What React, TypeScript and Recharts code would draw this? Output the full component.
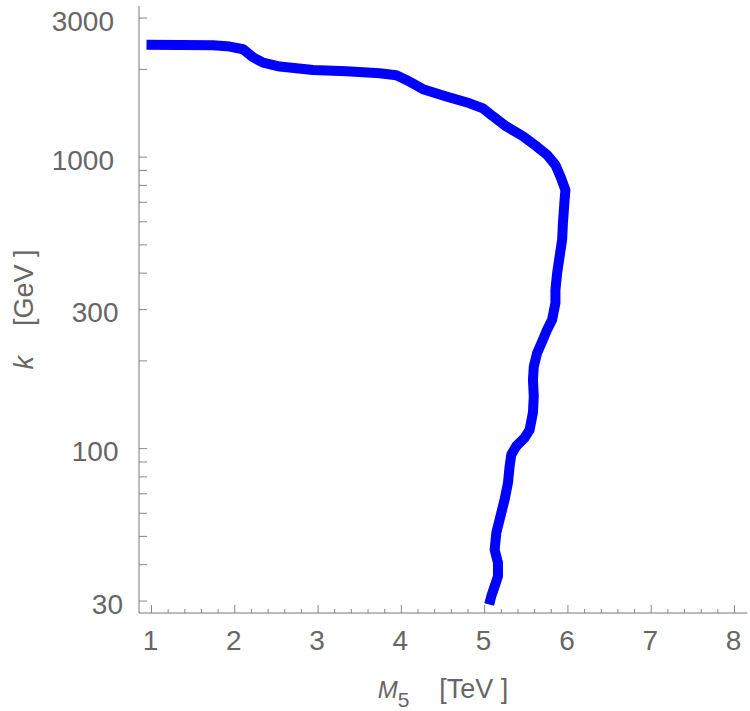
import { LineChart, Line, XAxis, YAxis } from 'recharts';

const m5Values = [
  0.94, 1.74, 1.94, 2.1, 2.22, 2.34, 2.54, 2.94, 3.34, 3.74, 3.94, 4.06, 4.26, 4.54,
  4.82, 4.98, 5.1, 5.26, 5.46, 5.63, 5.75, 5.85, 5.91, 5.97, 5.96, 5.94, 5.93, 5.9,
  5.87, 5.85, 5.85, 5.81, 5.75, 5.69, 5.63, 5.59, 5.58, 5.59, 5.58, 5.54, 5.48, 5.38,
  5.32, 5.3, 5.28, 5.24, 5.18, 5.14, 5.12, 5.16, 5.16, 5.12, 5.08, 5.055,
];
const kValues = [
  2430, 2420, 2395, 2345, 2200, 2110, 2045, 1990, 1970, 1940, 1910, 1840, 1710, 1615,
  1530, 1470, 1380, 1275, 1180, 1085, 1018, 940, 858, 772, 714, 594, 520, 456,
  400, 351, 316, 277, 256, 233, 213, 191, 172, 151, 133, 116, 109, 102,
  95.4, 87, 76.3, 66.9, 57.1, 51.4, 45, 40.6, 36.5, 33.7, 31.2, 29.2,
];

const xTicks = [
  1, 1.2, 1.4, 1.6, 1.8, 2, 2.2, 2.4, 2.6, 2.8, 3, 3.2, 3.4, 3.6, 3.8, 4, 4.2, 4.4, 4.6, 4.8,
  5, 5.2, 5.4, 5.6, 5.8, 6, 6.2, 6.4, 6.6, 6.8, 7, 7.2, 7.4, 7.6, 7.8, 8,
];
const xLabeled = [1, 2, 3, 4, 5, 6, 7, 8];
const yTicks = [30, 40, 50, 60, 70, 80, 90, 100, 200, 300, 400, 500, 600, 700, 800, 900, 1000, 2000, 3000];
const yLabeled = [30, 100, 300, 1000, 3000];

const data = m5Values.map((m5, i) => ({ m5, k: kValues[i] }));

const FONT = '"Liberation Sans", Arial, sans-serif';
const TEXT = '#666';
const TICK = '#888';

const XTick = (props: any) => {
  const { x, y, payload } = props;
  const v = payload.value;
  const major = xLabeled.includes(v);
  return (
    <g>
      <line x1={x} x2={x} y1={y} y2={y - (major ? 8 : 4)} stroke={TICK} />
      {major && (
        <text x={x - 1} y={y + 37} textAnchor="middle" fill={TEXT} fontSize={28} fontFamily={FONT}>
          {v}
        </text>
      )}
    </g>
  );
};

const YTick = (props: any) => {
  const { x, y, payload } = props;
  const v = payload.value;
  const labeled = yLabeled.includes(v);
  const shift = (4 - String(v).length) * 4.5;
  return (
    <g>
      <line x1={x} x2={x + 8} y1={y} y2={y} stroke={TICK} />
      {labeled && (
        <text x={x - 25 + shift} y={y + 12.5} textAnchor="end" fill={TEXT} fontSize={28} fontFamily={FONT}>
          {v}
        </text>
      )}
    </g>
  );
};

const XLabel = (props: any) => {
  const { viewBox } = props;
  const cx = viewBox.x + viewBox.width / 2;
  return (
    <text x={cx} y={698} textAnchor="middle" fill={TEXT} fontFamily={FONT} fontSize={27} style={{ whiteSpace: 'pre' }}>
      <tspan fontStyle="italic" fontSize={24}>M</tspan>
      <tspan fontSize={21} dy={9}>5</tspan>
      <tspan dy={-9}>{'    [TeV ]'}</tspan>
    </text>
  );
};

const YLabel = (props: any) => {
  const { viewBox } = props;
  const cy = viewBox.y + viewBox.height / 2;
  return (
    <text
      x={33}
      y={cy}
      transform={`rotate(-90, 33, ${cy})`}
      textAnchor="middle"
      fill={TEXT}
      fontFamily={FONT}
      fontSize={27}
      style={{ whiteSpace: 'pre' }}
    >
      <tspan fontStyle="italic">k</tspan>
      <tspan>{'    [GeV ]'}</tspan>
    </text>
  );
};

export default function App() {
  return (
    <div style={{ position: 'absolute', left: 0, top: 0, background: '#fff' }}>
      <LineChart width={750} height={711} data={data} margin={{ top: 6, right: 3, left: 0, bottom: 0 }}>
        <XAxis
          dataKey="m5"
          type="number"
          domain={[0.85, 8.15]}
          allowDataOverflow
          ticks={xTicks}
          interval={0}
          tick={<XTick />}
          tickLine={false}
          tickSize={0}
          tickMargin={0}
          height={98}
          axisLine={{ stroke: '#777' }}
          label={<XLabel />}
        />
        <XAxis
          xAxisId="top"
          orientation="top"
          dataKey="m5"
          type="number"
          domain={[0.85, 8.15]}
          allowDataOverflow
          height={0}
          tick={false}
          tickLine={false}
          axisLine={{ stroke: '#777' }}
        />
        <YAxis
          dataKey="k"
          type="number"
          scale="log"
          domain={[27.3, 3300]}
          allowDataOverflow
          ticks={yTicks}
          interval={0}
          tick={<YTick />}
          tickLine={false}
          tickSize={0}
          tickMargin={0}
          width={139}
          axisLine={{ stroke: '#777' }}
          label={<YLabel />}
        />
        <YAxis
          yAxisId="right"
          orientation="right"
          type="number"
          scale="log"
          domain={[27.3, 3300]}
          allowDataOverflow
          width={0}
          tick={false}
          tickLine={false}
          axisLine={{ stroke: '#aaa' }}
        />
        <Line
          dataKey="k"
          type="linear"
          stroke="#0000ff"
          strokeWidth={10}
          strokeLinejoin="round"
          dot={false}
          activeDot={false}
          isAnimationActive={false}
        />
      </LineChart>
    </div>
  );
}
